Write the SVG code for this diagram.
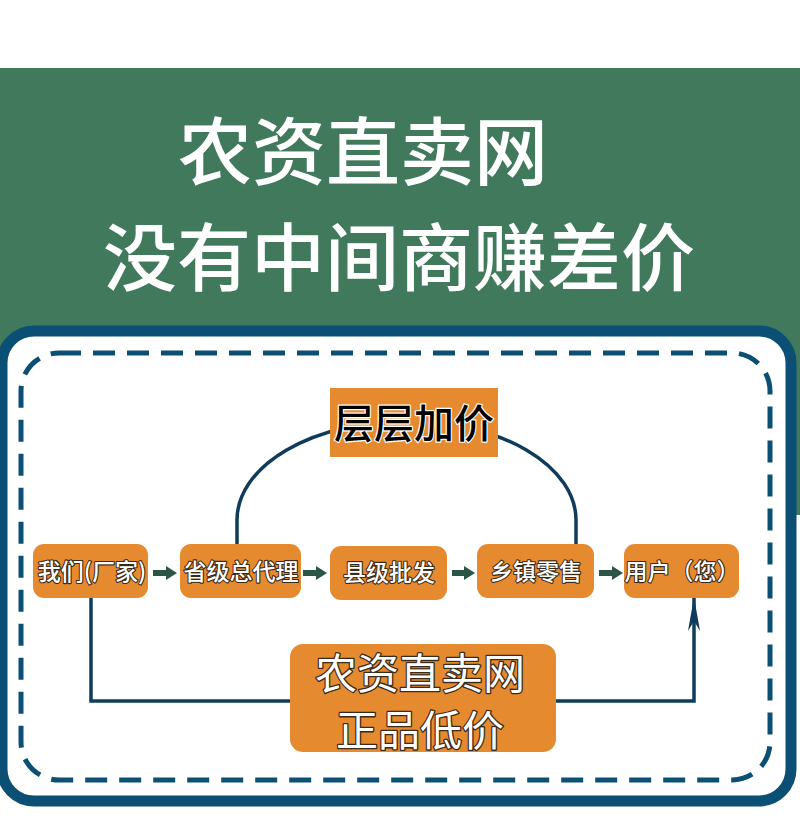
<svg xmlns="http://www.w3.org/2000/svg" width="800" height="822" viewBox="0 0 800 822">
<style>
.cjk{font-family:"Noto Sans CJK SC","Noto Sans",sans-serif}
.head{fill:#ffffff;font-size:74px;font-weight:500}
.box{fill:#e68a30}
.nt{fill:#ffffff;font-size:23px;font-weight:500;stroke:#3a2a1a;stroke-width:2.2;paint-order:stroke;stroke-linejoin:round;text-anchor:middle}
.bt{fill:#ffffff;font-size:42px;stroke:#3a2a1a;stroke-width:2.6;paint-order:stroke;stroke-linejoin:round;text-anchor:middle}
.lt{fill:#000000;font-size:40px;font-weight:500;stroke:#ffffff;stroke-width:2.4;paint-order:stroke;stroke-linejoin:round;text-anchor:middle}
.conn{fill:none;stroke:#0f3b5c;stroke-width:3.5}
.sa{fill:#2b5645}
</style>
<defs>
<marker id="up" viewBox="0 0 34 12" refX="34" refY="6" markerWidth="34" markerHeight="12" markerUnits="userSpaceOnUse" orient="auto">
<path d="M34,6 L0,0 L10,6 L0,12 Z" fill="#0f3b5c"/>
</marker>
</defs>
<rect x="0" y="0" width="800" height="822" fill="#ffffff"/>
<rect x="0" y="68" width="800" height="447" fill="#41795c"/>
<g id="header">
<text class="cjk head" x="178" y="179">农资直卖网</text>
<text class="cjk head" x="103" y="285">没有中间商赚差价</text>
</g>
<g id="frame">
<rect x="2" y="331" width="789" height="470" rx="32" fill="#ffffff" stroke="#0b4f75" stroke-width="11"/>
<rect x="21" y="353" width="749" height="427" rx="38" fill="none" stroke="#0b4f75" stroke-width="5" stroke-dasharray="22 12"/>
</g>
<g id="connectors">
<path class="conn" d="M237,544 L237,520 A169.5,99 0 0 1 576,520 L576,544"/>
<path class="conn" d="M91,598 L91,701 L694,701 L694,597" marker-end="url(#up)"/>
<polygon class="sa" points="153,570 166,570 166,566 177,573 166,580 166,576 153,576"/>
<polygon class="sa" points="303,570 316,570 316,566 327,573 316,580 316,576 303,576"/>
<polygon class="sa" points="452,570 464,570 464,566 475,573 464,580 464,576 452,576"/>
<polygon class="sa" points="599,570 612,570 612,566 623,573 612,580 612,576 599,576"/>
</g>
<g id="node-label-top">
<rect class="box" x="330" y="388" width="168" height="69"/>
<text class="cjk lt" x="414" y="438">层层加价</text>
</g>
<g id="node-factory">
<rect class="box" x="33" y="544" width="115" height="54" rx="11"/>
<text class="cjk nt" x="92" y="580">我们(厂家)</text>
</g>
<g id="node-province">
<rect class="box" x="180" y="544" width="121" height="54" rx="11"/>
<text class="cjk nt" x="241" y="580">省级总代理</text>
</g>
<g id="node-county">
<rect class="box" x="330" y="546" width="117" height="54" rx="11"/>
<text class="cjk nt" x="389" y="581">县级批发</text>
</g>
<g id="node-town">
<rect class="box" x="477" y="544" width="117" height="54" rx="11"/>
<text class="cjk nt" x="536" y="580">乡镇零售</text>
</g>
<g id="node-user">
<rect class="box" x="624" y="544" width="115" height="54" rx="11"/>
<text class="cjk nt" x="682" y="580">用户（您）</text>
</g>
<g id="node-direct">
<rect class="box" x="290" y="644" width="266" height="108" rx="13"/>
<text class="cjk bt" x="420" y="689">农资直卖网</text>
<text class="cjk bt" x="420" y="746">正品低价</text>
</g>
</svg>
